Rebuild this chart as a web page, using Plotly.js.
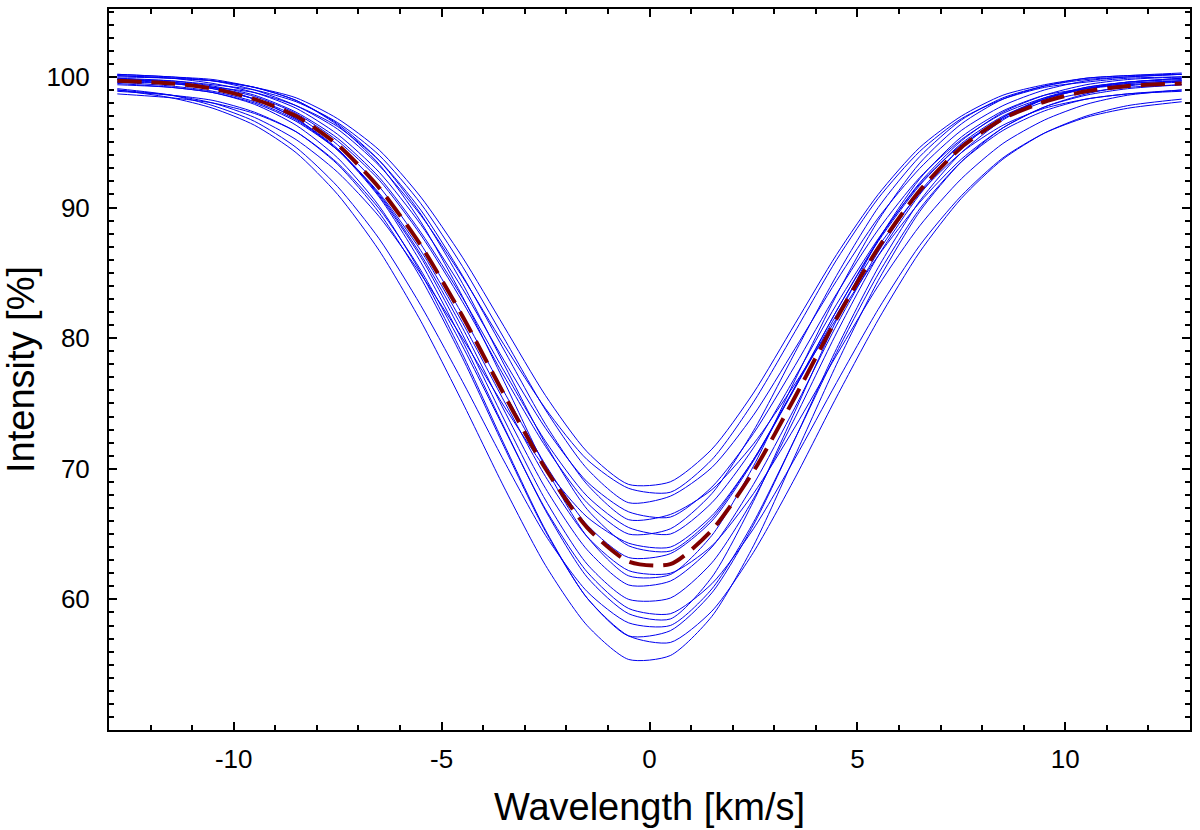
<!DOCTYPE html>
<html>
<head>
<meta charset="utf-8">
<script src="https://cdn.plot.ly/plotly-3.0.1.min.js"></script>
<style>
  html, body { margin: 0; padding: 0; background: #ffffff; }
  #profiles { width: 1200px; height: 830px; }
</style>
</head>
<body>
<div id="profiles"></div>
<script>
// velocity grid shared by all profiles [km/s]
let wave = [-12.8, -11.5, -10.5, -9.5, -8.5, -7.5, -6.5, -5.5, -4.5, -3.5, -2.5, -1.5, -0.5,
    0.5, 1.5, 2.5, 3.5, 4.5, 5.5, 6.5, 7.5, 8.5, 9.5, 10.5, 11.5, 12.8];

// individual line profiles, intensity in %
let obs01 = [100.0, 99.9, 99.7, 99.2, 98.4, 96.8, 94.4, 90.8, 86.2, 80.9, 75.6, 71.3, 68.8,
    69.0, 71.5, 75.8, 81.1, 86.4, 91.0, 94.6, 97.0, 98.6, 99.4, 99.9, 100.1, 100.2];
let obs02 = [100.2, 100.0, 99.7, 99.0, 97.8, 96.0, 93.2, 89.4, 84.7, 79.5, 74.6, 70.7, 68.5,
    68.2, 70.7, 75.1, 80.5, 86.0, 90.7, 94.3, 96.8, 98.3, 99.2, 99.6, 99.9, 100.0];
let obs03 = [99.8, 99.7, 99.4, 99.0, 98.1, 96.5, 94.0, 90.3, 85.5, 80.0, 74.5, 70.0, 67.4,
    67.9, 70.1, 74.1, 79.2, 84.4, 89.2, 93.0, 95.9, 97.8, 99.0, 99.7, 100.0, 100.2];
let obs04 = [100.1, 99.9, 99.5, 98.8, 97.6, 95.6, 92.7, 88.7, 83.8, 78.3, 73.1, 69.0, 66.7,
    66.3, 68.6, 72.7, 77.9, 83.4, 88.3, 92.3, 95.2, 97.2, 98.4, 99.1, 99.5, 99.7];
let obs05 = [99.6, 99.5, 99.2, 98.8, 97.8, 96.2, 93.6, 89.8, 84.8, 79.1, 73.4, 68.8, 66.1,
    66.5, 68.4, 71.9, 76.5, 81.5, 86.3, 90.4, 93.7, 96.1, 97.7, 98.7, 99.3, 99.7];
let obs06 = [99.9, 99.7, 99.3, 98.6, 97.3, 95.3, 92.3, 88.1, 83.1, 77.5, 72.1, 67.9, 65.5,
    65.0, 67.4, 71.6, 77.0, 82.6, 87.6, 91.8, 94.8, 96.8, 98.1, 98.8, 99.2, 99.4];
let obs07 = [99.8, 99.6, 99.2, 98.5, 97.2, 95.1, 92.1, 87.9, 82.8, 77.1, 71.7, 67.4, 65.0,
    65.4, 68.1, 72.9, 78.9, 84.8, 90.0, 93.9, 96.7, 98.4, 99.3, 99.8, 100.0, 100.2];
let obs08 = [99.0, 98.6, 98.0, 96.9, 95.2, 92.7, 89.3, 84.9, 80.0, 74.8, 70.0, 66.3, 64.3,
    64.0, 66.4, 70.7, 76.2, 81.8, 87.0, 91.1, 94.2, 96.3, 97.6, 98.3, 98.7, 98.9];
let obs09 = [100.1, 99.9, 99.7, 99.2, 98.2, 96.4, 93.6, 89.5, 84.2, 78.0, 71.9, 66.9, 64.1,
    63.7, 66.2, 70.7, 76.3, 82.1, 87.4, 91.7, 94.9, 97.0, 98.3, 99.1, 99.5, 99.7];
let obs10 = [99.7, 99.5, 99.1, 98.3, 97.0, 94.8, 91.6, 87.2, 81.8, 75.9, 70.3, 65.7, 63.2,
    63.5, 66.0, 70.6, 76.2, 82.1, 87.5, 91.9, 95.1, 97.3, 98.6, 99.4, 99.8, 100.0];
let obs11 = [99.4, 99.2, 98.8, 98.0, 96.6, 94.4, 91.1, 86.7, 81.2, 75.2, 69.4, 64.8, 62.2,
    62.0, 64.1, 68.1, 73.2, 78.7, 84.0, 88.6, 92.2, 94.9, 96.7, 97.9, 98.6, 99.0];
let obs12 = [100.2, 100.0, 99.8, 99.2, 98.2, 96.3, 93.3, 88.9, 83.2, 76.7, 70.1, 64.8, 61.8,
    61.9, 64.9, 70.2, 76.8, 83.3, 89.0, 93.4, 96.4, 98.3, 99.3, 99.9, 100.1, 100.3];
let obs13 = [99.6, 99.3, 98.9, 98.1, 96.7, 94.4, 91.0, 86.4, 80.8, 74.5, 68.5, 63.8, 61.1,
    61.4, 64.0, 68.8, 74.7, 81.0, 86.6, 91.2, 94.6, 96.9, 98.3, 99.1, 99.6, 99.8];
let obs14 = [99.8, 99.5, 99.1, 98.3, 96.8, 94.5, 90.9, 86.2, 80.3, 73.8, 67.6, 62.7, 60.0,
    60.1, 62.8, 67.7, 73.9, 80.4, 86.3, 91.0, 94.6, 96.9, 98.4, 99.2, 99.6, 99.9];
let obs15 = [98.7, 98.4, 98.0, 97.2, 95.8, 93.4, 89.9, 85.2, 79.4, 73.1, 66.9, 62.1, 59.3,
    58.9, 61.2, 65.4, 70.8, 76.6, 82.2, 87.1, 90.9, 93.8, 95.7, 96.9, 97.6, 98.1];
let obs16 = [99.9, 99.6, 99.2, 98.3, 96.8, 94.4, 90.8, 85.8, 79.8, 73.2, 66.8, 61.7, 58.9,
    58.5, 61.7, 67.5, 74.4, 81.4, 87.5, 92.2, 95.4, 97.4, 98.6, 99.1, 99.4, 99.6];
let obs17 = [99.1, 98.6, 97.8, 96.6, 94.6, 91.6, 87.6, 82.5, 76.7, 70.6, 64.9, 60.6, 58.2,
    58.0, 60.8, 65.9, 72.3, 78.9, 84.9, 89.9, 93.5, 95.9, 97.4, 98.3, 98.7, 99.0];
let obs18 = [99.5, 99.2, 98.8, 97.9, 96.3, 93.8, 90.1, 85.0, 78.8, 71.9, 65.3, 60.1, 57.2,
    57.6, 60.5, 65.7, 72.3, 79.2, 85.4, 90.5, 94.2, 96.7, 98.3, 99.2, 99.6, 99.9];
let obs19 = [98.9, 98.6, 98.2, 97.3, 95.8, 93.3, 89.6, 84.6, 78.5, 71.7, 65.2, 60.1, 57.2,
    56.7, 59.1, 63.6, 69.3, 75.5, 81.4, 86.6, 90.7, 93.7, 95.7, 97.0, 97.8, 98.3];
let obs20 = [99.0, 98.4, 97.6, 96.3, 94.2, 91.0, 86.7, 81.3, 75.1, 68.6, 62.6, 58.0, 55.4,
    55.7, 58.7, 64.1, 71.0, 78.0, 84.4, 89.7, 93.5, 96.1, 97.7, 98.6, 99.1, 99.4];

// average profile (dashed)
let meanProfile = [99.7, 99.5, 99.1, 98.3, 97.0, 94.8, 91.5, 87.1, 81.7, 75.7, 70.0, 65.5, 62.9,
    62.7, 65.3, 69.8, 75.5, 81.5, 86.9, 91.3, 94.6, 96.8, 98.1, 98.9, 99.3, 99.5];

// axis tick labels
let xTickVals = [-10, -5, 0, 5, 10];
let xTickText = ['-10', '-5', '0', '5', '10'];
let yTickVals = [60, 70, 80, 90, 100];
let yTickText = ['60', '70', '80', '90', '100'];

let observations = [obs01, obs02, obs03, obs04, obs05, obs06, obs07, obs08, obs09, obs10,
    obs11, obs12, obs13, obs14, obs15, obs16, obs17, obs18, obs19, obs20];

let data = [];
for (let i = 0; i < observations.length; ++i) {
    data.push({
        x: wave,
        y: observations[i],
        mode: 'lines',
        line: { simplify: false, width: 1, color: '#0000f0', shape: 'spline', smoothing: 0.7 },
    });
}
data.push({ // mean profile
    x: wave,
    y: meanProfile,
    mode: 'lines',
    line: { simplify: false, width: 4, color: '#800000', dash: '24px,10px', shape: 'spline', smoothing: 0.7 },
});

let fontFamily = 'Liberation Sans, Arial, sans-serif';

let axisCommon = {
    showgrid: false,
    zeroline: false,
    showline: true,
    linecolor: 'black',
    linewidth: 2,
    mirror: 'allticks',
    ticks: 'inside',
    ticklen: 8,
    tickwidth: 2,
    tickcolor: 'black',
    tickmode: 'array',
    tickfont: { family: fontFamily, size: 26, color: 'black' },
    minor: { tickmode: 'linear', tick0: 0, dtick: 1, ticks: 'inside', ticklen: 5, tickwidth: 2, tickcolor: 'black', showgrid: false },
};

let layout = {
    width: 1200,
    height: 830,
    margin: { l: 109, r: 10, t: 9, b: 100, pad: 0 },
    paper_bgcolor: '#ffffff',
    plot_bgcolor: '#ffffff',
    showlegend: false,
    xaxis: Object.assign({}, axisCommon, {
        range: [-13, 13],
        tickvals: xTickVals,
        ticktext: xTickText,
        ticklabelstandoff: 5,
        title: { text: 'Wavelength [km/s]', standoff: 20, font: { family: fontFamily, size: 38, color: 'black' } },
    }),
    yaxis: Object.assign({}, axisCommon, {
        range: [50, 105.2],
        tickvals: yTickVals,
        ticktext: yTickText,
        ticklabelstandoff: 12,
        title: { text: 'Intensity [%]', standoff: 8, font: { family: fontFamily, size: 38, color: 'black' } },
    }),
};

let config = { staticPlot: true, displayModeBar: false };

Plotly.newPlot('profiles', data, layout, config);
</script>
</body>
</html>
